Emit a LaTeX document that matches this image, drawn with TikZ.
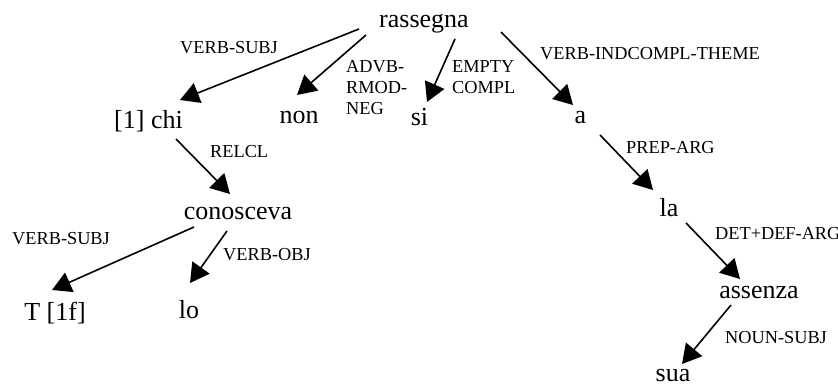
\documentclass[tikz,border=0pt]{standalone}
\usepackage{fontspec}
\setmainfont{Liberation Serif}
\usetikzlibrary{arrows.meta,calc}
\begin{document}
\begin{tikzpicture}[x=1pt,y=-1pt,
  word/.style={font=\fontsize{26}{30}\selectfont, inner sep=0pt, anchor=base},
  lab/.style={font=\fontsize{18.3}{21}\selectfont, inner sep=0pt, anchor=base west, align=left},
  dep/.style={line width=1.6pt, -{Triangle[length=19pt,width=21pt]}}]
\useasboundingbox (0,0) rectangle (838,383);
% words
\node[word] (rass) at (424,27) {rassegna};
\node[word] (chi) at (148.5,128) {[1] chi};
\node[word] (non) at (299,123) {non};
\node[word] (si) at (419.5,125) {si};
\node[word] (an) at (580.5,123) {a};
\node[word] (cono) at (238,219) {conosceva};
\node[word] (tf) at (55,320) {T [1f]};
\node[word] (lo) at (189,318) {lo};
\node[word] (la) at (669,216) {la};
\node[word] (ass) at (759,298) {assenza};
\node[word] (sua) at (673,381) {sua};
% labels (base anchor of a multi-line label is its last line)
\node[lab] (l1) at (180,53) {VERB-SUBJ};
\node[lab] (l2) at (346,114) {ADVB-\\RMOD-\\NEG};
\node[lab] (l3) at (452,93) {EMPTY\\COMPL};
\node[lab] (l4) at (540,59) {VERB-INDCOMPL-THEME};
\node[lab] (l5) at (210,157) {RELCL};
\node[lab] (l6) at (626,153) {PREP-ARG};
\node[lab] (l7) at (12,244) {VERB-SUBJ};
\node[lab] (l8) at (223,260) {VERB-OBJ};
\node[lab] (l9) at (715,239) {DET+DEF-ARG};
\node[lab] (l10) at (725,343) {NOUN-SUBJ};
% connectors
\draw[dep] ($(rass.base)+(-65,2)$) -- ($(chi.base)+(31.5,-28)$);
\draw[dep] ($(rass.base)+(-58,8)$) -- ($(non.base)+(-2,-28)$);
\draw[dep] ($(rass.base)+(31,12)$) -- ($(si.base)+(7.5,-23)$);
\draw[dep] ($(rass.base)+(77,5)$) -- ($(an.base)+(-7.5,-18)$);
\draw[dep] ($(chi.base)+(27.5,11)$) -- ($(cono.base)+(-8,-25)$);
\draw[dep] ($(cono.base)+(-44,8)$) -- ($(tf.base)+(-3,-30)$);
\draw[dep] ($(cono.base)+(-11,12)$) -- ($(lo.base)+(1,-35)$);
\draw[dep] ($(an.base)+(19.5,12)$) -- ($(la.base)+(-16,-26)$);
\draw[dep] ($(la.base)+(17,7)$) -- ($(ass.base)+(-19,-19)$);
\draw[dep] ($(ass.base)+(-28,7)$) -- ($(sua.base)+(9,-17)$);
\end{tikzpicture}
\end{document}
